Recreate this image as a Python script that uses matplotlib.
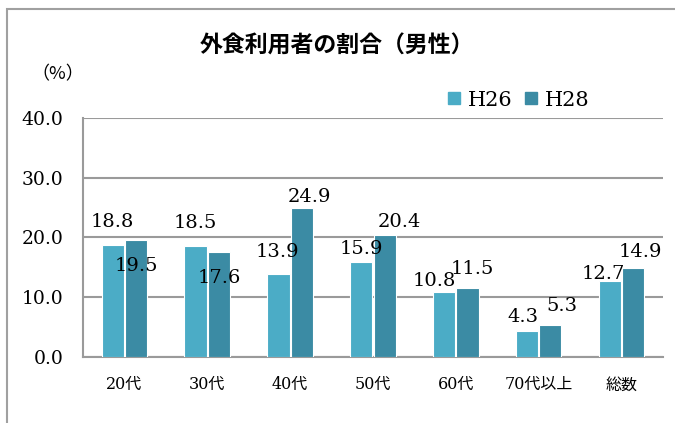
import matplotlib
matplotlib.use("Agg")
import matplotlib.pyplot as plt
from matplotlib.patches import Rectangle, Patch
import numpy as np

categories = ["20代", "30代", "40代", "50代", "60代", "70代以上", "総数"]
h26 = [18.8, 18.5, 13.9, 15.9, 10.8, 4.3, 12.7]
h28 = [19.5, 17.6, 24.9, 20.4, 11.5, 5.3, 14.9]
series_names = ["H26", "H28"]
yticks = [0, 10, 20, 30, 40]

# label offsets (pixels) from each bar's top center, mimicking manual placement
off26 = [(0, 23), (0, 23), (-1, 22), (0, 13), (-10, 11), (-4, 14), (-7, 7)]
off28 = [(0, -26), (0, -26), (8, 11), (15, 13), (5, 19), (12, 19), (7, 16)]

serif = ["DejaVu Serif", "Noto Sans CJK JP"]
plt.rcParams["font.family"] = serif

W, H = 675, 423
fig = plt.figure(figsize=(W / 100, H / 100), dpi=100)
ax = fig.add_axes([83 / W, 1 - 357 / H, (663 - 83) / W, (357 - 118) / H])

c26 = "#4BACC6"
c28 = "#3B8BA4"
grid = "#9A9A9A"

x = np.arange(len(categories))
bw = 0.268
off = 0.141
b1 = ax.bar(x - off, h26, bw, color=c26, edgecolor="white", linewidth=0.8, zorder=3, label=series_names[0])
b2 = ax.bar(x + off, h28, bw, color=c28, edgecolor="white", linewidth=0.8, zorder=3, label=series_names[1])

for bars, vals, offs in ((b1, h26, off26), (b2, h28, off28)):
    for b, v, (dx, dy) in zip(bars, vals, offs):
        ax.annotate(f"{v:.1f}", (b.get_x() + b.get_width() / 2, v),
                    xytext=(dx, dy), textcoords="offset pixels",
                    ha="center", va="center", fontsize=14, color="black",
                    family=serif, zorder=5)

ax.set_xlim(-0.5, len(categories) - 0.5)
ax.set_ylim(0, 40)
ax.set_yticks(yticks)
ax.set_yticklabels([f"{t:.1f}" for t in yticks], fontsize=13.5, family=serif)
ax.set_xticks(x)
ax.set_xticklabels(categories, fontsize=11.5, family=serif)
ax.tick_params(axis="both", length=0)
ax.tick_params(axis="x", pad=14)
ax.tick_params(axis="y", pad=14)
ax.yaxis.grid(True, color=grid, linewidth=1.5, zorder=0)
for s in ("top", "right"):
    ax.spines[s].set_visible(False)
ax.spines["left"].set_color(grid)
ax.spines["left"].set_linewidth(1.5)
ax.spines["bottom"].set_color(grid)
ax.spines["bottom"].set_linewidth(1.5)

# chart frame
fig.patches.append(Rectangle((7 / W, -0.1), 1.2, 1 - 9 / H + 0.1, transform=fig.transFigure,
                             fill=False, edgecolor="#A0A0A0", linewidth=1.5))

fig.text(337 / W, 1 - 46 / H, "外食利用者の割合（男性）", ha="center", va="center",
         fontsize=16.5, family=["Noto Sans CJK JP"], weight="bold")
fig.text(58 / W, 1 - 74 / H, "（%）", ha="center", va="center", fontsize=13,
         family=["Noto Sans CJK JP"])

handles = [Patch(color=c26), Patch(color=c28)]
fig.legend(handles, series_names, loc="center", bbox_to_anchor=(519 / W, 1 - 100 / H),
           ncol=2, frameon=False, handlelength=0.55, handleheight=0.55,
           handletextpad=0.4, columnspacing=0.6, prop={"family": serif, "size": 15})

fig.savefig("out.png", dpi=100)
